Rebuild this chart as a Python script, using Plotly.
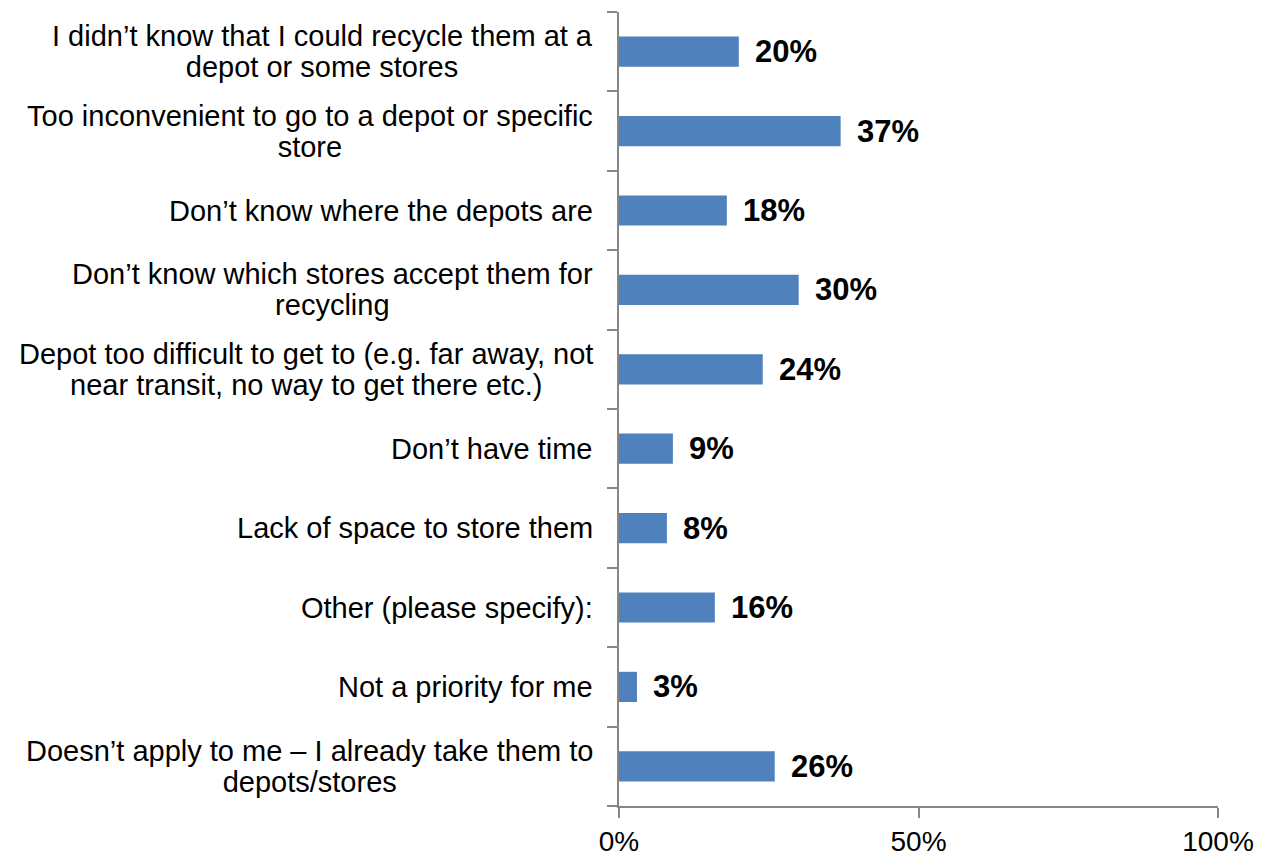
import plotly.graph_objects as go

# Survey: reasons for not recycling at depots / stores
categories = [
    "I didn’t know that I could recycle them at a<br>depot or some stores",
    "Too inconvenient to go to a depot or specific<br>store",
    "Don’t know where the depots are",
    "Don’t know which stores accept them for<br>recycling",
    "Depot too difficult to get to (e.g. far away, not<br>near transit, no way to get there etc.)",
    "Don’t have time",
    "Lack of space to store them",
    "Other (please specify):",
    "Not a priority for me",
    "Doesn’t apply to me – I already take them to<br>depots/stores",
]
values = [20, 37, 18, 30, 24, 9, 8, 16, 3, 26]
x_ticks = [0, 50, 100]
x_tick_labels = ["0%", "50%", "100%"]

FONT = "Liberation Sans, Arial, sans-serif"
AXIS_GREY = "#868686"
BAR_BLUE = "#4F81BD"
LABEL_SIZE = 29   # glyph size of the category labels
LINE_BASE = 24    # base size, sets the tighter line spacing (1.3 * 24 px)

fig = go.Figure(
    go.Bar(
        x=values,
        y=list(range(len(categories))),
        orientation="h",
        width=0.38,
        marker=dict(color=BAR_BLUE, line=dict(width=0)),
        hoverinfo="skip",
    )
)

annotations = []
for i, (cat, v) in enumerate(zip(categories, values)):
    # category label: lines centred on each other, right edge left of the axis
    styled = "<br>".join(
        f'<span style="font-size:{LABEL_SIZE}px">{ln}</span>' for ln in cat.split("<br>")
    )
    annotations.append(dict(
        xref="paper", yref="y", x=0, y=i, xshift=-24,
        xanchor="right", yanchor="middle", align="center",
        text=styled, showarrow=False,
        font=dict(family=FONT, size=LINE_BASE, color="#000000"),
    ))
    # value label just past the bar end
    annotations.append(dict(
        xref="x", yref="y", x=v, y=i, xshift=14,
        xanchor="left", yanchor="middle",
        text=f"<b>{v}%</b>", showarrow=False,
        font=dict(family=FONT, size=31, color="#000000"),
    ))

fig.update_layout(
    template="none",
    width=1273, height=858,
    margin=dict(l=619, r=55, t=12, b=52),
    paper_bgcolor="white", plot_bgcolor="white",
    showlegend=False,
    annotations=annotations,
    xaxis=dict(
        range=[0, 100], tickvals=x_ticks, ticktext=x_tick_labels,
        automargin=False,
        showgrid=False, zeroline=False,
        showline=True, linecolor=AXIS_GREY, linewidth=1.5,
        ticks="outside", ticklen=10, tickcolor=AXIS_GREY, tickwidth=1.5,
        tickfont=dict(family=FONT, size=28, color="#000000"),
        fixedrange=True,
    ),
    yaxis=dict(
        range=[len(categories) - 0.5, -0.5],
        tickvals=[i - 0.5 for i in range(len(categories) + 1)],
        showticklabels=False, automargin=False,
        showgrid=False, zeroline=False,
        showline=True, linecolor=AXIS_GREY, linewidth=1.5,
        ticks="outside", ticklen=10, tickcolor=AXIS_GREY, tickwidth=1.5,
        fixedrange=True,
    ),
)

fig.write_html("out.html", config={"displayModeBar": False})
